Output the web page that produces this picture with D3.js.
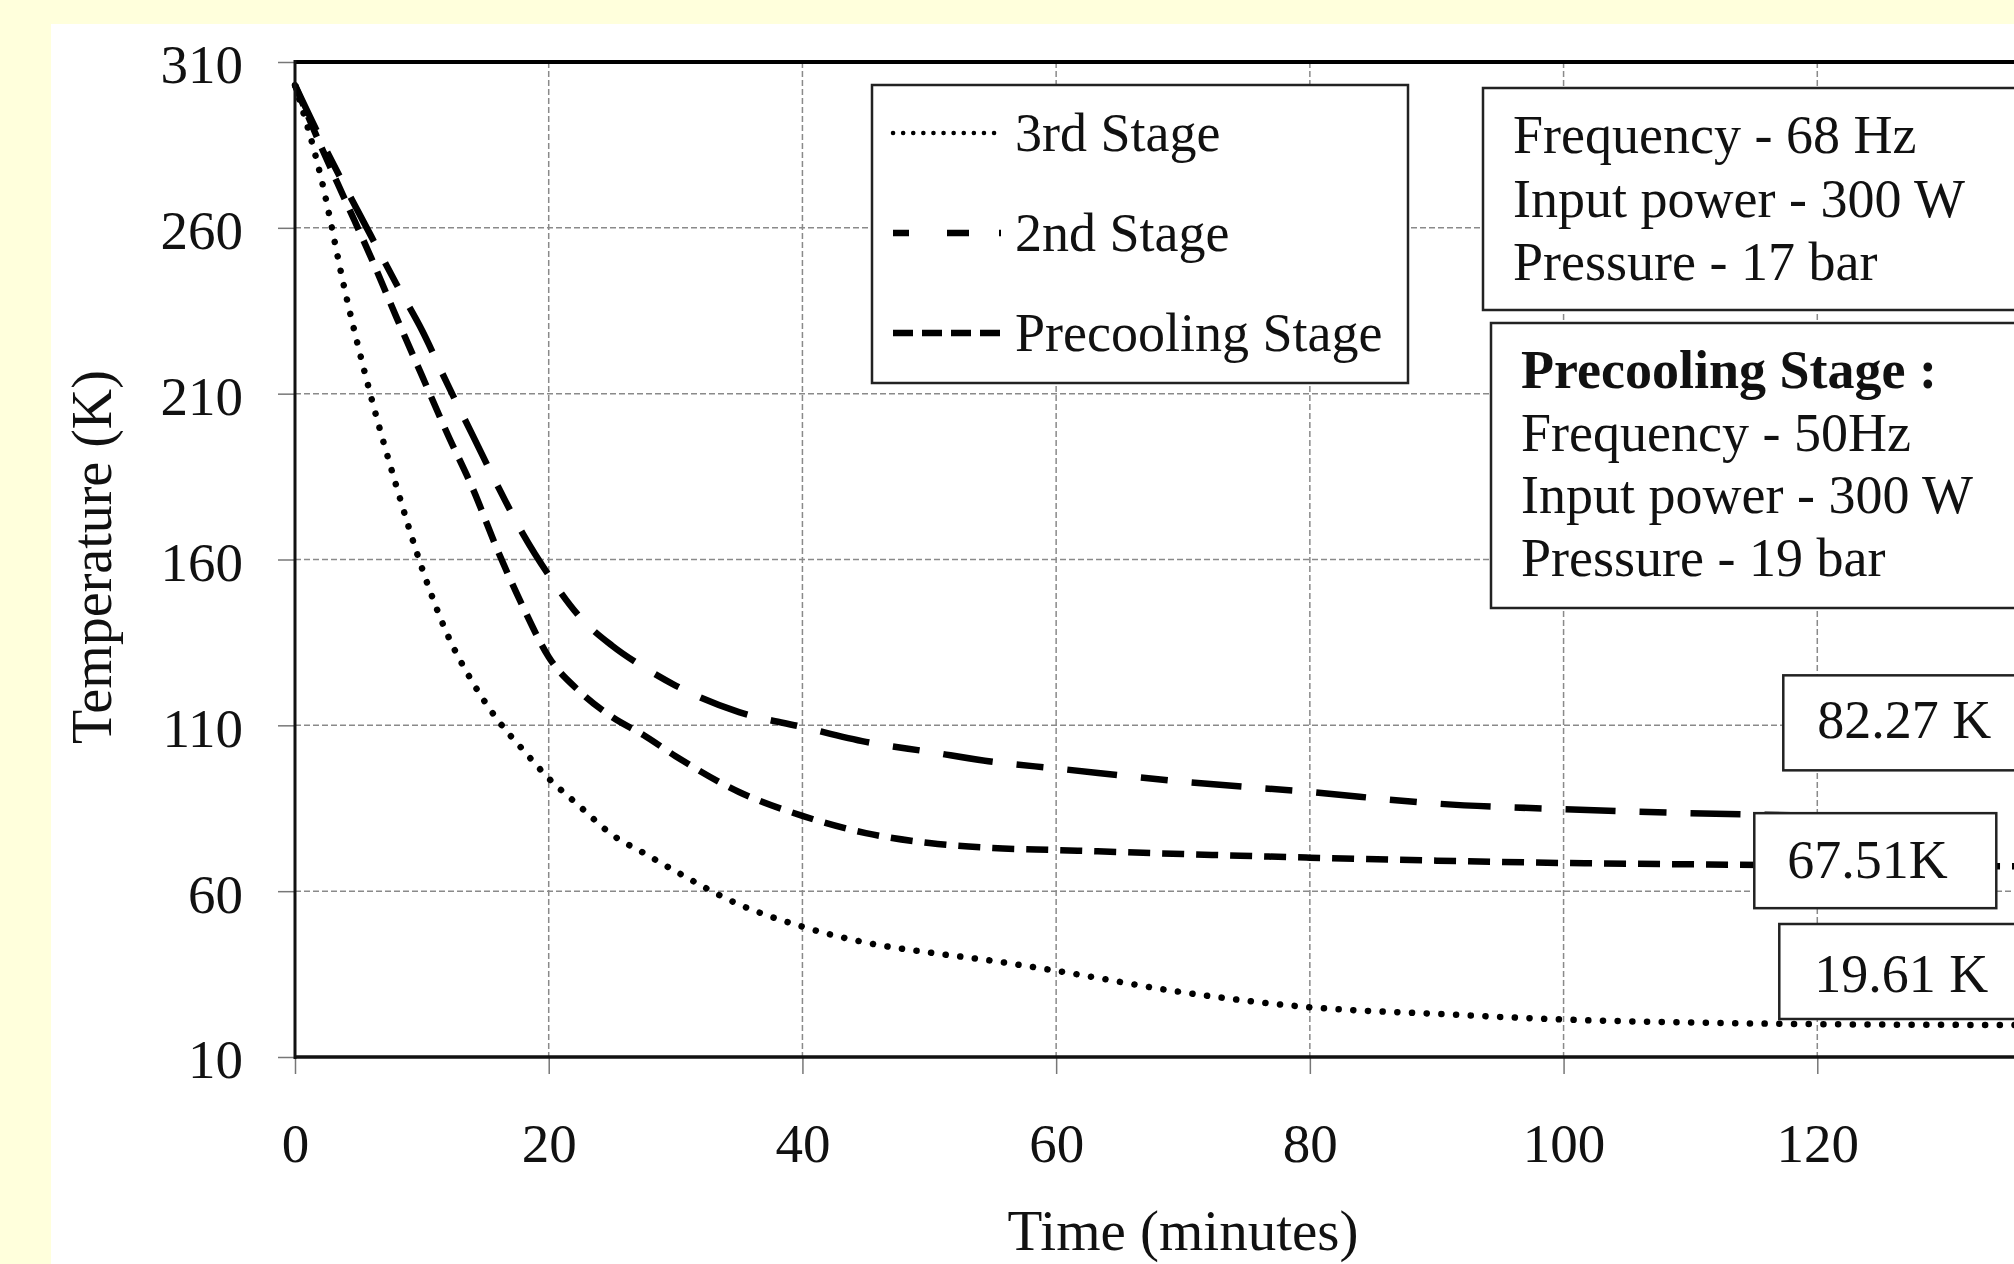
<!DOCTYPE html>
<meta charset="utf-8">
<style>

html,
body {
  margin: 0;
  overflow: hidden;
  background: #ffffdc;
}

svg {
  display: block;
}

text {
  font-family: "Liberation Serif", "Times New Roman", serif;
  fill: #111;
}

.grid {
  stroke: #8a8a8a;
  stroke-width: 1.5;
  stroke-dasharray: 6,3;
}

.box {
  fill: #fff;
  stroke: #222;
  stroke-width: 2.5;
}

</style>
<body>
<script src="https://d3js.org/d3.v7.min.js"></script>
<script>

var width = 2014,
 height = 1264;

// time axis (minutes)
var minutes = [0, 2, 4, 6, 8, 10, 12, 14, 16, 18, 20, 22.5, 25, 27.5, 30, 35, 40, 45, 50, 55, 60, 70, 80, 90, 100, 110, 120, 130, 140];

// temperatures (K)
var thirdStage = [303, 276, 240, 209, 182, 157.5, 137.5, 123, 111.5, 102.5, 94, 85.4, 77, 71.5, 66, 56, 49.3, 44.5, 41.5, 39, 36, 29.5, 25, 23, 21.3, 20.4, 19.9, 19.7, 19.61];
var secondStage = [303, 287, 272, 257.5, 243, 229.2, 213, 197.5, 182, 167.5, 155.3, 142.5, 134, 127.5, 122, 114, 109.5, 105, 102, 99, 97, 93, 89.9, 86.4, 84.7, 83.5, 82.8, 82.5, 82.27];
var precoolingStage = [303, 285, 268, 251, 233, 215.5, 198, 181.5, 162.5, 145.5, 130.6, 120, 112.5, 107, 100.7, 89.9, 82.7, 77.5, 74.5, 73, 72.4, 71.2, 70.1, 69.2, 68.5, 68.1, 67.8, 67.6, 67.51];

var xTicks = [0, 20, 40, 60, 80, 100, 120, 140];
var xTickLabels = [0, 20, 40, 60, 80, 100, 120];
var yTicks = [10, 60, 110, 160, 210, 260, 310];

var seriesNames = ["3rd Stage", "2nd Stage", "Precooling Stage"];
var infoMain = ["Frequency - 68 Hz", "Input power - 300 W", "Pressure - 17 bar"];
var infoPrecool = ["Precooling Stage :", "Frequency - 50Hz", "Input power - 300 W", "Pressure - 19 bar"];
var endLabels = ["82.27 K", "67.51K", "19.61 K"];

var x = d3.scaleLinear().domain([0, 140]).range([295, 2071]);
var y = d3.scaleLinear().domain([10, 310]).range([1057, 62]);

var svg = d3.select("body")
  .append("svg")
  .attr("width", width)
  .attr("height", height);

svg.append("rect")
  .attr("width", width)
  .attr("height", height)
  .attr("fill", "#ffffdc");

svg.append("rect")
  .attr("x", 51)
  .attr("y", 24)
  .attr("width", width - 51)
  .attr("height", height - 24)
  .attr("fill", "#fff");

// gridlines
svg.selectAll(".vgrid")
  .data(xTicks.slice(1))
  .enter().append("line")
  .attr("class", "grid")
  .attr("x1", function(d) { return x(d); })
  .attr("x2", function(d) { return x(d); })
  .attr("y1", y(310))
  .attr("y2", y(10));

svg.selectAll(".hgrid")
  .data(yTicks.slice(1))
  .enter().append("line")
  .attr("class", "grid")
  .attr("x1", x(0))
  .attr("x2", x(140))
  .attr("y1", function(d) { return y(d); })
  .attr("y2", function(d) { return y(d); });

// axes (ticks + labels); the 140 label falls outside the picture
var xAxis = svg.append("g")
  .attr("transform", "translate(0," + y(10) + ")")
  .call(d3.axisBottom(x).tickValues(xTicks).tickSize(17).tickPadding(49)
    .tickFormat(function(d) { return xTickLabels.indexOf(d) >= 0 ? d : ""; }));

var yAxis = svg.append("g")
  .attr("transform", "translate(" + x(0) + ",0)")
  .call(d3.axisLeft(y).tickValues(yTicks).tickSize(17).tickPadding(35));

[xAxis, yAxis].forEach(function(a) {
  a.select(".domain").remove();
  a.attr("font-family", "Liberation Serif, serif").attr("font-size", 55);
  a.selectAll(".tick line").attr("stroke", "#777").attr("stroke-width", 1.5);
  a.selectAll(".tick text").attr("fill", "#111");
});
yAxis.selectAll(".tick text").attr("dy", "0.38em");

// series
var line = d3.line()
  .x(function(d, i) { return x(minutes[i]); })
  .y(function(d) { return y(d); })
  .curve(d3.curveMonotoneX);

var styles = [
  { data: thirdStage, width: 6.5, dash: "0.1,14.6", cap: "round" },
  { data: secondStage, width: 6.5, dash: "50,24,27,24", cap: "butt" },
  { data: precoolingStage, width: 6.5, dash: "22,12", cap: "butt" }
];

svg.selectAll(".series")
  .data(styles)
  .enter().append("path")
  .attr("d", function(s) { return line(s.data); })
  .attr("fill", "none")
  .attr("stroke", "#000")
  .attr("stroke-width", function(s) { return s.width; })
  .attr("stroke-dasharray", function(s) { return s.dash; })
  .attr("stroke-linecap", function(s) { return s.cap; });

// frame
svg.append("line")
  .attr("x1", x(0)).attr("x2", x(140))
  .attr("y1", y(310)).attr("y2", y(310))
  .attr("stroke", "#000").attr("stroke-width", 4);
svg.append("line")
  .attr("x1", x(0)).attr("x2", x(140))
  .attr("y1", y(10)).attr("y2", y(10))
  .attr("stroke", "#111").attr("stroke-width", 3.5);
svg.append("line")
  .attr("x1", x(0)).attr("x2", x(0))
  .attr("y1", y(310) - 2).attr("y2", y(10) + 2)
  .attr("stroke", "#111").attr("stroke-width", 3);

// axis titles
svg.append("text")
  .attr("x", x(70))
  .attr("y", 1250)
  .attr("text-anchor", "middle")
  .attr("font-size", 57)
  .text("Time (minutes)");

svg.append("text")
  .attr("transform", "translate(111,557) rotate(-90)")
  .attr("text-anchor", "middle")
  .attr("font-size", 56)
  .text("Temperature (K)");

// legend
svg.append("rect").attr("class", "box")
  .attr("x", 872).attr("y", 85).attr("width", 536).attr("height", 298);

var legendDash = [
  { dash: "0.1,10", width: 4.5, cap: "round" },
  { dash: "16,38,22,30,2", width: 6.5, cap: "butt" },
  { dash: "20,9", width: 6.5, cap: "butt" }
];

var legend = svg.selectAll(".legend")
  .data(seriesNames)
  .enter().append("g")
  .attr("transform", function(d, i) { return "translate(893," + (133 + i * 100) + ")"; });

legend.append("line")
  .attr("x1", 0).attr("x2", 108)
  .attr("stroke", "#000")
  .attr("stroke-width", function(d, i) { return legendDash[i].width; })
  .attr("stroke-dasharray", function(d, i) { return legendDash[i].dash; })
  .attr("stroke-linecap", function(d, i) { return legendDash[i].cap; });

legend.append("text")
  .attr("x", 122)
  .attr("y", 18)
  .attr("font-size", 54)
  .text(function(d) { return d; });

// info boxes
svg.append("rect").attr("class", "box")
  .attr("x", 1483).attr("y", 88).attr("width", 600).attr("height", 222);

svg.selectAll(".infoMain")
  .data(infoMain)
  .enter().append("text")
  .attr("x", 1513)
  .attr("y", function(d, i) { return 153 + i * 63.5; })
  .attr("font-size", 54)
  .text(function(d) { return d; });

svg.append("rect").attr("class", "box")
  .attr("x", 1491).attr("y", 323).attr("width", 600).attr("height", 285);

svg.selectAll(".infoPre")
  .data(infoPrecool)
  .enter().append("text")
  .attr("x", 1521)
  .attr("y", function(d, i) { return 388 + i * 62.7; })
  .attr("font-size", 54)
  .attr("font-weight", function(d, i) { return i == 0 ? "bold" : "normal"; })
  .text(function(d) { return d; });

// final value boxes
var endBoxes = [
  { left: x(120) - 34, top: y(110) - 50, w: 300, textDx: 34, textDy: 63 },
  { left: x(120) - 63, top: y(60) - 78, w: 242, textDx: 33, textDy: 65 },
  { left: x(120) - 38, top: y(10) - 133, w: 300, textDx: 35, textDy: 68 }
];

var ends = svg.selectAll(".endbox")
  .data(endLabels)
  .enter().append("g")
  .attr("transform", function(d, i) { return "translate(" + endBoxes[i].left + "," + endBoxes[i].top + ")"; });

ends.append("rect").attr("class", "box")
  .attr("width", function(d, i) { return endBoxes[i].w; })
  .attr("height", 95);

ends.append("text")
  .attr("x", function(d, i) { return endBoxes[i].textDx; })
  .attr("y", function(d, i) { return endBoxes[i].textDy; })
  .attr("font-size", 54)
  .text(function(d) { return d; });

</script>
